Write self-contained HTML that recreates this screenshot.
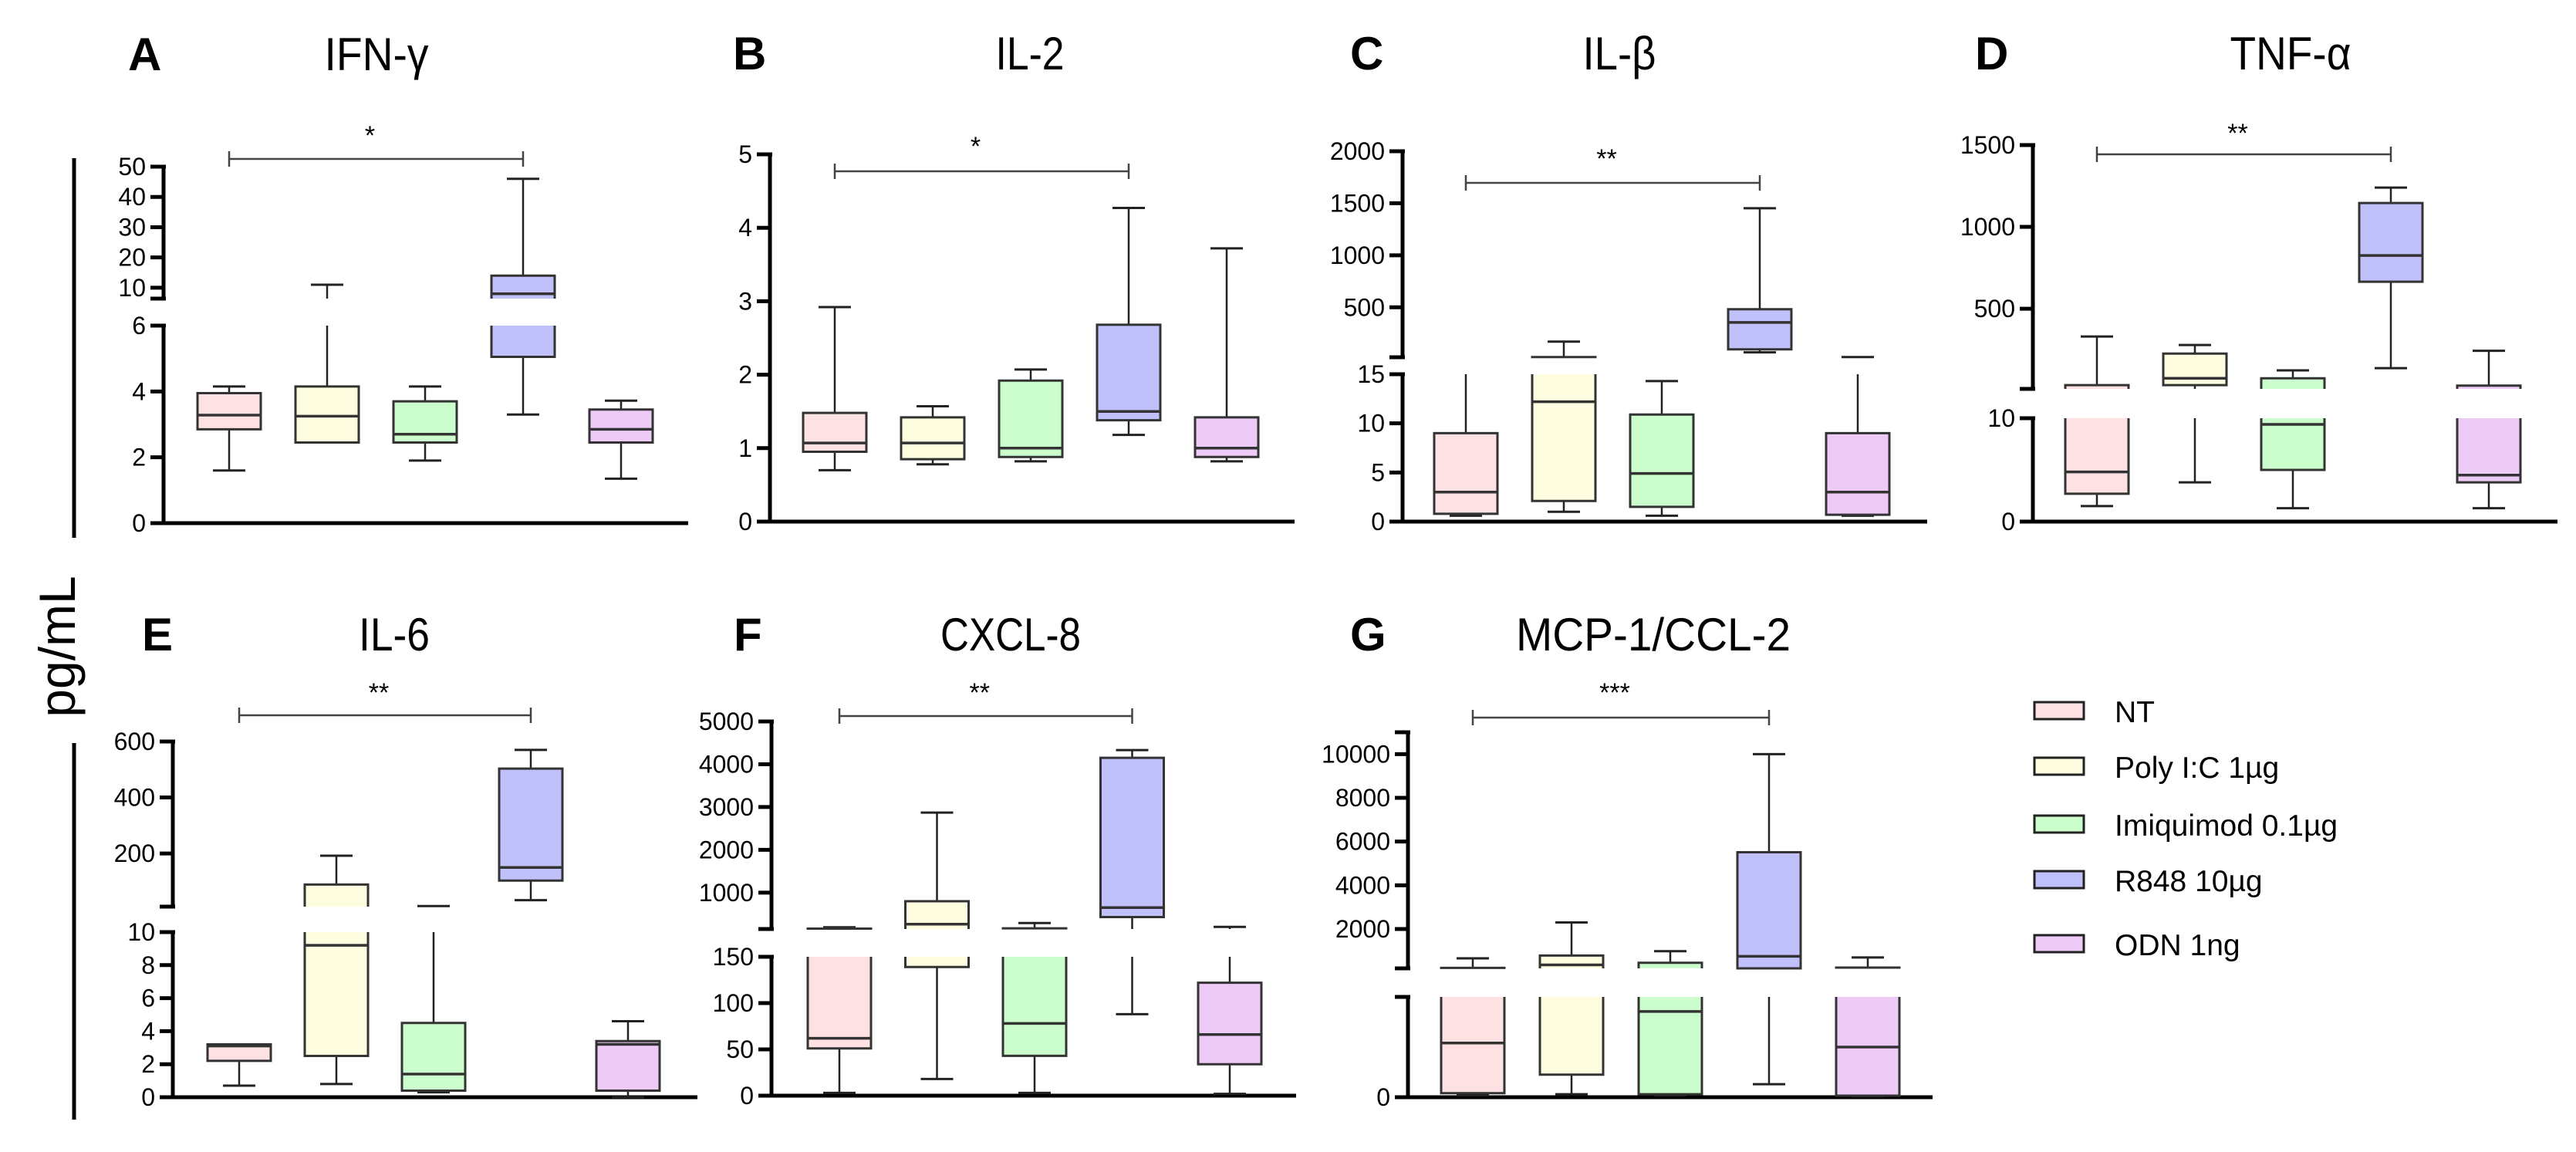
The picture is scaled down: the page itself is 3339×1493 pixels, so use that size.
<!DOCTYPE html>
<html><head><meta charset="utf-8"><style>
html,body{margin:0;padding:0;background:#fff;}
svg{display:block;font-family:"Liberation Sans",Arial,sans-serif;}
</style></head><body>
<svg id="fig" width="3339" height="1493" viewBox="0 0 3339 1493" xmlns="http://www.w3.org/2000/svg">
<rect width="3339" height="1493" fill="#fff"/>
<line x1="96" y1="205" x2="96" y2="697" stroke="#000" stroke-width="5"/>
<line x1="96" y1="963" x2="96" y2="1451" stroke="#000" stroke-width="5"/>
<text transform="translate(97,838) rotate(-90)" text-anchor="middle" font-size="66">pg/mL</text>
<g id="legend"></g>
</svg>
<script>
const groups = ["NT","Poly I:C 1µg","Imiquimod 0.1µg","R848 10µg","ODN 1ng"];
const fills = ["#fde1e3","#fffde0","#ccfdcc","#c0c0fb","#eecbf7"];
// [min, q1, median, q3, max] per group
const ifnValues = [[1.6,2.85,3.28,3.95,4.15],[2.45,2.45,3.25,4.15,11],[1.9,2.45,2.7,3.7,4.15],[3.3,5.05,8,14,46],[1.35,2.45,2.85,3.45,3.72]];
const il2Values = [[0.7,0.95,1.07,1.48,2.92],[0.78,0.85,1.07,1.42,1.57],[0.82,0.88,1.0,1.92,2.07],[1.18,1.38,1.5,2.68,4.27],[0.82,0.88,1.0,1.42,3.72]];
const ilbValues = [[0.6,0.8,3,9,17],[1,2.1,12.2,22,170],[0.6,1.5,4.9,10.9,14.3],[67,96,355,482,1452],[0.6,0.7,3,9,22]];
const tnfValues = [[1.5,2.7,4.8,33,330],[3.8,33,75,226,278],[1.3,5,9.4,75,123],[137,665,825,1146,1240],[1.3,3.8,4.5,30,243]];
const il6Values = [[0.7,2.2,3.1,3.2,3.2],[0.8,2.5,9.2,89,192],[0.3,0.4,1.4,4.5,12],[33,103,150,503,570],[0,0.4,3.2,3.4,4.6]];
const cxclValues = [[3,51,62,160,190],[18,139,263,800,2870],[3,43,78,165,290],[88,430,650,4150,4330],[2,34,66,122,200]];
const mcpValues = [[4,8,108,220,660],[6,45,357,785,2300],[4,6,171,457,985],[26,200,750,5510,10000],[2,3,100,235,700]];
const ifnTicksUpper = [10,20,30,40,50], ifnTicksLower = [0,2,4,6];
const il2Ticks = [0,1,2,3,4,5];
const ilbTicksUpper = [500,1000,1500,2000], ilbTicksLower = [0,5,10,15];
const tnfTicksUpper = [500,1000,1500], tnfTicksLower = [0,10];
const il6TicksUpper = [200,400,600], il6TicksLower = [0,2,4,6,8,10];
const cxclTicksUpper = [1000,2000,3000,4000,5000], cxclTicksLower = [0,50,100,150];
const mcpTicksUpper = [2000,4000,6000,8000,10000], mcpTicksLower = [0];

const panels = [
 {id:"ifn",letter:"A",title:"IFN-γ",tl:135,lx:166,ty:91,tx:488,values:ifnValues,ax:212,c0:297,sp:127,zero:678,
  segs:[{a:0,b:6,y0:678,y1:422,ticks:ifnTicksLower},{a:6.4,b:50,y0:387,y1:216,ticks:ifnTicksUpper}],sig:206,star:"*",starY:167},
 {id:"il2",letter:"B",title:"IL-2",tl:89,lx:950,ty:90,tx:1335,values:il2Values,ax:998,c0:1082,sp:127,zero:676,
  segs:[{a:0,b:5,y0:676,y1:200,ticks:il2Ticks}],sig:222,star:"*",starY:181},
 {id:"ilb",letter:"C",title:"IL-β",tl:95,lx:1750,ty:90,tx:2099,values:ilbValues,ax:1818,c0:1900,sp:127,zero:676,
  segs:[{a:0,b:15,y0:676,y1:485,ticks:ilbTicksLower},{a:20,b:2000,y0:463,y1:196,ticks:ilbTicksUpper}],sig:237,star:"**",starY:197},
 {id:"tnf",letter:"D",title:"TNF-α",tl:157,lx:2560,ty:90,tx:2969,values:tnfValues,ax:2635,c0:2718,sp:127,zero:676,
  segs:[{a:0,b:10,y0:676,y1:542,ticks:tnfTicksLower},{a:10,b:1500,y0:504,y1:188,ticks:tnfTicksUpper}],sig:200,star:"**",starY:164},
 {id:"il6",letter:"E",title:"IL-6",tl:92,lx:184,ty:843,tx:511,values:il6Values,ax:224,c0:310,sp:126,zero:1422,
  segs:[{a:0,b:10,y0:1422,y1:1208,ticks:il6TicksLower},{a:10,b:600,y0:1175,y1:961,ticks:il6TicksUpper}],sig:927,star:"**",starY:889},
 {id:"cxcl",letter:"F",title:"CXCL-8",tl:182,lx:951,ty:843,tx:1310,values:cxclValues,ax:1000,c0:1088,sp:126.5,zero:1420,
  segs:[{a:0,b:150,y0:1420,y1:1240,ticks:cxclTicksLower},{a:150,b:5000,y0:1204,y1:935,ticks:cxclTicksUpper}],sig:928,star:"**",starY:889},
 {id:"mcp",letter:"G",title:"MCP-1/CCL-2",tl:356,lx:1750,ty:843,tx:2143,values:mcpValues,ax:1825,c0:1909,sp:128,zero:1422,
  segs:[{a:0,b:200,y0:1422,y1:1292,ticks:mcpTicksLower},{a:200,b:11000,y0:1255,y1:949,ticks:mcpTicksUpper}],sig:930,star:"***",starY:889}
];

const NS="http://www.w3.org/2000/svg";
const svg=document.getElementById("fig");
function mk(tag,attrs,parent){const e=document.createElementNS(NS,tag);for(const k in attrs)e.setAttribute(k,attrs[k]);(parent||svg).appendChild(e);return e;}
function ln(p,x1,y1,x2,y2,w,c){return mk("line",{x1:x1,y1:y1,x2:x2,y2:y2,stroke:c||"#000","stroke-width":w},p);}
function segY(s,v){return s.y0+(v-s.a)*(s.y1-s.y0)/(s.b-s.a);}
function inSeg(s,v){return v>=s.a&&v<=s.b;}

const BW=82, CW=42, TICK=17;
panels.forEach(P=>{
  const g=mk("g",{});
  
  
  const L=mk("text",{x:P.lx,y:P.ty,"font-size":60,"font-weight":"bold"},g);
  L.textContent=P.letter;
  
  
  const T=mk("text",{x:P.tx,y:P.ty,"font-size":60,"text-anchor":"middle",textLength:P.tl,lengthAdjust:"spacingAndGlyphs"},g);
  T.textContent=P.title;
  
  
  const xa=ln(g,P.ax-TICK,P.zero,P.ax+680,P.zero,5);
  
  
  P.segs.forEach((s,si)=>{
    const ya=ln(g,P.ax,s.y0+2,P.ax,s.y1-2,5);
    
    
    ln(g,P.ax-TICK,s.y0,P.ax+3,s.y0,5);
    ln(g,P.ax-TICK,s.y1,P.ax+3,s.y1,5);
    s.ticks.forEach(t=>{
      const y=segY(s,t);
      ln(g,P.ax-TICK,y,P.ax,y,5);
      const tx=mk("text",{x:P.ax-TICK-6,y:y+11,"font-size":32,"text-anchor":"end"},g);
      tx.textContent=String(t);
      
      
    });
  });
  P.values.forEach((d,i)=>{
    const cx=P.c0+i*P.sp;
    const bg=mk("g",{},g);
    
    
    const [mn,q1,md,q3,mx]=d;
    P.segs.forEach(s=>{
      let lo=Math.max(mn,s.a),hi=Math.min(q1,s.b);
      if(lo<hi) ln(bg,cx,segY(s,lo),cx,segY(s,hi),2.5,"#222");
      lo=Math.max(q3,s.a);hi=Math.min(mx,s.b);
      if(lo<hi) ln(bg,cx,segY(s,lo),cx,segY(s,hi),2.5,"#222");
      if(inSeg(s,mn)) ln(bg,cx-CW/2,segY(s,mn),cx+CW/2,segY(s,mn),3,"#222");
      if(inSeg(s,mx)) ln(bg,cx-CW/2,segY(s,mx),cx+CW/2,segY(s,mx),3,"#222");
      lo=Math.max(q1,s.a);hi=Math.min(q3,s.b);
      if(lo<hi){
        const yb=segY(s,lo),yt=segY(s,hi);
        mk("rect",{x:cx-BW/2,y:yt,width:BW,height:Math.max(yb-yt,0.5),fill:fills[i]},bg);
        ln(bg,cx-BW/2,yt,cx-BW/2,yb,3,"#333");
        ln(bg,cx+BW/2,yt,cx+BW/2,yb,3,"#333");
        if(inSeg(s,q1)) ln(bg,cx-BW/2-1.5,segY(s,q1),cx+BW/2+1.5,segY(s,q1),3,"#333");
        if(inSeg(s,q3)) ln(bg,cx-BW/2-1.5,segY(s,q3),cx+BW/2+1.5,segY(s,q3),3,"#333");
        if(inSeg(s,md)) ln(bg,cx-BW/2,segY(s,md),cx+BW/2,segY(s,md),3.5,"#333");
      }
    });
  });
  const x1=P.c0, x2=P.c0+3*P.sp;
  const sb=mk("g",{},g);
  
  
  ln(sb,x1,P.sig,x2,P.sig,2.5,"#444");
  ln(sb,x1,P.sig-10,x1,P.sig+10,2.5,"#444");
  ln(sb,x2,P.sig-10,x2,P.sig+10,2.5,"#444");
  const st=mk("text",{x:(x1+x2)/2-8,y:P.starY+20,"font-size":34,"text-anchor":"middle"},sb);
  st.textContent=P.star;
  
  
});

const legendY=[921,993,1068,1140,1223];
const lg=document.getElementById("legend");
groups.forEach((name,i)=>{
  const e=mk("g",{},lg);
  
  
  mk("rect",{x:2637,y:legendY[i]-11,width:64,height:22,fill:fills[i],stroke:"#222","stroke-width":3},e);
  const t=mk("text",{x:2741,y:legendY[i]+15,"font-size":39},e);
  t.textContent=name;
});
</script>
</body></html>
